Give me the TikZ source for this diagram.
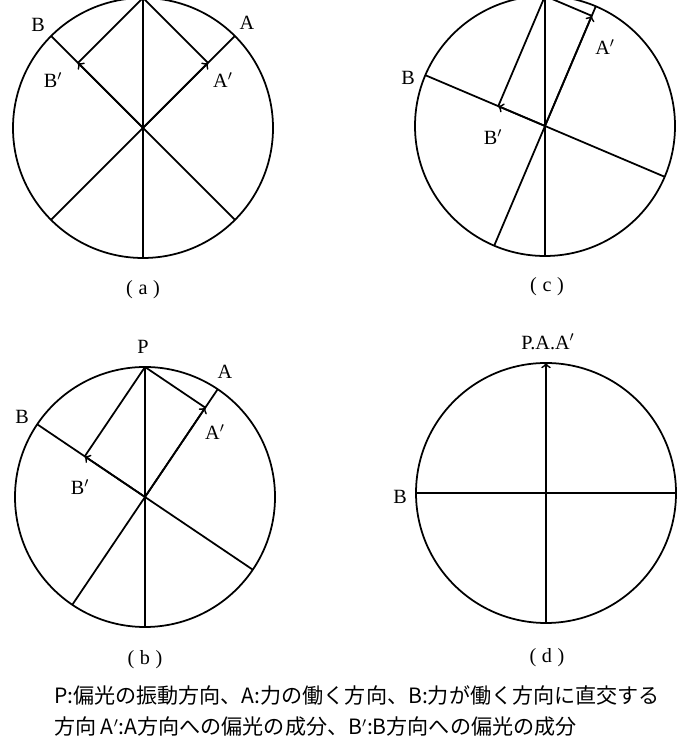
\documentclass[tikz,border=0pt]{standalone}
\usepackage{fontspec}
\setmainfont{Liberation Serif}
\newfontfamily\jpfont{Noto Sans CJK JP}
\usetikzlibrary{calc, positioning}

\begin{document}
\begin{tikzpicture}[
        x=0.02cm, y=0.02cm,
        every node/.style={font=\fontsize{11.5}{13}\selectfont, inner sep=1pt},
        ring/.style={line width=1pt},
        axis/.style={line width=1pt},
        comp/.style={->, >=to, line width=1pt}
    ]
        \useasboundingbox (0,0) rectangle (681,736);

        \coordinate (ao) at (143,608);
        \coordinate (aP) at ($(ao)+(90:130)$);
        \coordinate (aQ) at ($(ao)+(270:130)$);
        \coordinate (aA) at ($(ao)+(45:130)$);
        \coordinate (aC) at ($(ao)+(225:130)$);
        \coordinate (aB) at ($(ao)+(135:130)$);
        \coordinate (aD) at ($(ao)+(315:130)$);
        \coordinate (aAp) at ($(aC)!(aP)!(aA)$);
        \coordinate (aBp) at ($(aD)!(aP)!(aB)$);
        \draw[ring] (ao) circle (130);
        \draw[axis] (aP) -- (aQ);
        \draw[axis] (aC) -- (aA);
        \draw[axis] (aD) -- (aB);
        \draw[axis] (aP) -- (aAp);
        \draw[axis] (aP) -- (aBp);
        \draw[comp] (ao) -- (aAp);
        \draw[comp] (ao) -- (aBp);
        \node (aAl) at (247,713) {A};
        \node (aBl) at (38,711) {B};
        \node (aApl) at (223,656) {A$'$};
        \node (aBpl) at (53,656) {B$'$};
        \node (acap) at (143,446) {(\;a\;)};

        \coordinate (bo) at (145,239);
        \coordinate (bP) at ($(bo)+(90:130)$);
        \coordinate (bQ) at ($(bo)+(270:130)$);
        \coordinate (bA) at ($(bo)+(56:130)$);
        \coordinate (bC) at ($(bo)+(236:130)$);
        \coordinate (bB) at ($(bo)+(146:130)$);
        \coordinate (bD) at ($(bo)+(326:130)$);
        \coordinate (bAp) at ($(bC)!(bP)!(bA)$);
        \coordinate (bBp) at ($(bD)!(bP)!(bB)$);
        \draw[ring] (bo) circle (130);
        \draw[axis] (bP) -- (bQ);
        \draw[axis] (bC) -- (bA);
        \draw[axis] (bD) -- (bB);
        \draw[axis] (bP) -- (bAp);
        \draw[axis] (bP) -- (bBp);
        \draw[comp] (bo) -- (bAp);
        \draw[comp] (bo) -- (bBp);
        \node (bPl) at (143,389) {P};
        \node (bAl) at (225,364) {A};
        \node (bBl) at (22,319) {B};
        \node (bApl) at (215,304) {A$'$};
        \node (bBpl) at (80,249) {B$'$};
        \node (bcap) at (145,76) {(\;b\;)};

        \coordinate (co) at (545,610);
        \coordinate (cP) at ($(co)+(90:130)$);
        \coordinate (cQ) at ($(co)+(270:130)$);
        \coordinate (cA) at ($(co)+(67:130)$);
        \coordinate (cC) at ($(co)+(247:130)$);
        \coordinate (cB) at ($(co)+(157:130)$);
        \coordinate (cD) at ($(co)+(337:130)$);
        \coordinate (cAp) at ($(cC)!(cP)!(cA)$);
        \coordinate (cBp) at ($(cD)!(cP)!(cB)$);
        \draw[ring] (co) circle (130);
        \draw[axis] (cP) -- (cQ);
        \draw[axis] (cC) -- (cA);
        \draw[axis] (cD) -- (cB);
        \draw[axis] (cP) -- (cAp);
        \draw[axis] (cP) -- (cBp);
        \draw[comp] (co) -- (cAp);
        \draw[comp] (co) -- (cBp);
        \node (cBl) at (408,658) {B};
        \node (cApl) at (605,689) {A$'$};
        \node (cBpl) at (493,599) {B$'$};
        \node (ccap) at (547,449) {(\;c\;)};

        \coordinate (do) at (546,243);
        \coordinate (dP) at ($(do)+(90:130)$);
        \coordinate (dQ) at ($(do)+(270:130)$);
        \coordinate (dB) at ($(do)+(180:130)$);
        \coordinate (dD) at ($(do)+(0:130)$);
        \draw[ring] (do) circle (130);
        \draw[axis] (dQ) -- (do);
        \draw[axis] (dB) -- (dD);
        \draw[comp] (do) -- (dP);
        \node (dBl) at (400,239) {B};
        \node (dPl) at (548,394) {P.A.A$'$};
        \node (dcap) at (547,78) {(\;d\;)};

        \node[anchor=west, align=left, font=\jpfont\fontsize{12}{18}\selectfont] (note) at (52,25) {P:偏光の振動方向、A:力の働く方向、B:力が働く方向に直交する\\方向 A$'$:A方向への偏光の成分、B$'$:B方向への偏光の成分};
    \end{tikzpicture}
\end{document}
